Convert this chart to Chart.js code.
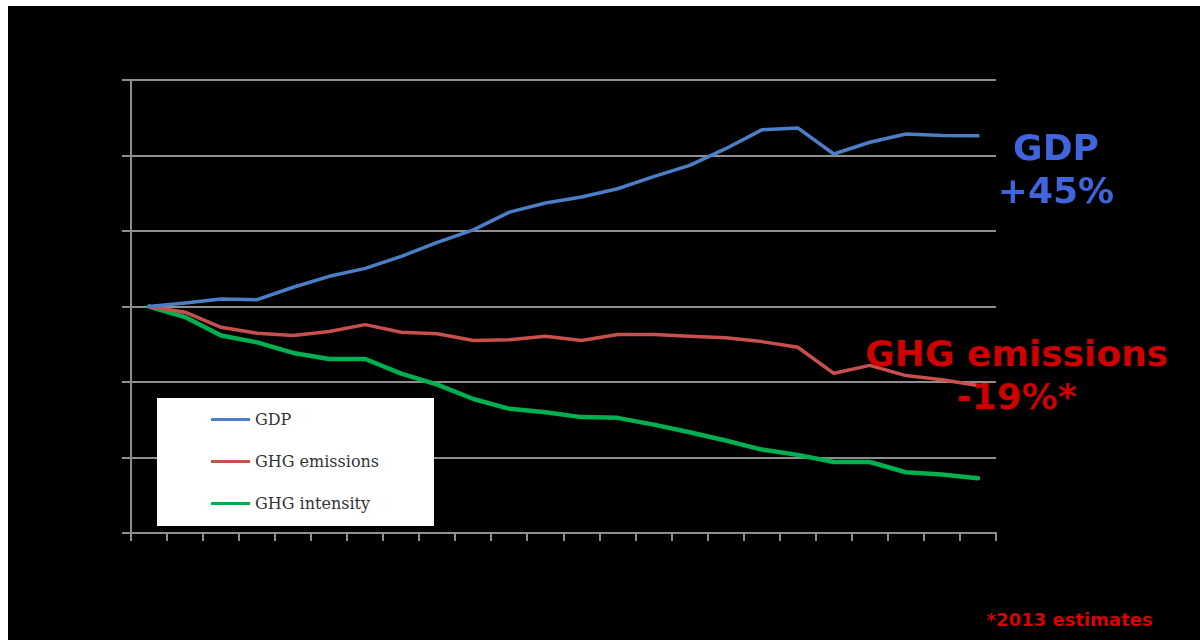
<!DOCTYPE html>
<html>
<head>
<meta charset="utf-8">
<script src="https://cdn.jsdelivr.net/npm/chart.js@4"></script>
<style>
  html, body { margin: 0; padding: 0; background: #fff; width: 1200px; height: 640px; overflow: hidden; }
  #panel { position: absolute; left: 8px; top: 6px; width: 1192px; height: 634px; background: #000; }
  #legend { position: absolute; left: 157px; top: 398px; width: 277px; height: 128px; background: #fff; }
  .item { position: absolute; left: 54px; height: 20px; font: 16px "DejaVu Serif", serif; color: #333; line-height: 20px; }
  .item i { display: inline-block; width: 39px; height: 3px; vertical-align: middle; margin-right: 5px; position: relative; top: -1px; }
  .note { position: absolute; font-family: "DejaVu Sans", Verdana, sans-serif; font-weight: bold; text-align: center; }
  #gdpNote { left: 956px; top: 126px; width: 200px; font-size: 36px; line-height: 43px; color: #4064dc; }
  #ghgNote { left: 857px; top: 332px; width: 320px; font-size: 36px; line-height: 43px; color: #d00000; }
  #footNote { left: 987px; top: 611px; font-size: 18px; line-height: 18px; color: #e00000; text-align: left; }
</style>
</head>
<body>
<div id="panel"><canvas id="GHG_Chart"></canvas></div>
<div id="legend"></div>
<div id="gdpNote" class="note">GDP<br>+45%</div>
<div id="ghgNote" class="note">GHG emissions<br>-19%*</div>
<div id="footNote" class="note">*2013 estimates</div>
<script>
const years = [1990, 1991, 1992, 1993, 1994, 1995, 1996, 1997, 1998, 1999, 2000, 2001,
               2002, 2003, 2004, 2005, 2006, 2007, 2008, 2009, 2010, 2011, 2012, 2013];
const gdp = [100, 100.9, 102.0, 101.8, 105.1, 108.0, 110.1, 113.3, 117.0, 120.3, 125.0, 127.4,
             129.0, 131.2, 134.4, 137.4, 141.8, 146.8, 147.3, 140.4, 143.5, 145.7, 145.3, 145.2];
const ghgEmissions = [100, 98.5, 94.5, 92.9, 92.3, 93.4, 95.2, 93.2, 92.8, 91.0, 91.2, 92.1,
                      91.0, 92.6, 92.6, 92.1, 91.7, 90.7, 89.2, 82.3, 84.4, 81.7, 80.6, 79.1];
const ghgIntensity = [100, 97.2, 92.3, 90.5, 87.7, 86.1, 86.1, 82.2, 79.3, 75.5, 72.9, 72.0,
                      70.7, 70.5, 68.7, 66.7, 64.5, 62.1, 60.7, 58.8, 58.8, 56.1, 55.5, 54.5];
const yTicks = [40, 60, 80, 100, 120, 140, 160];

const ghg_chart = document.getElementById('GHG_Chart');
const gridGray = '#8e8e8e';

const datasets = [
    { label: 'GDP', data: gdp, borderColor: '#4a7ec6', borderWidth: 3.5 },
    { label: 'GHG emissions', data: ghgEmissions, borderColor: '#c8504c', borderWidth: 3.5 },
    { label: 'GHG intensity', data: ghgIntensity, borderColor: '#00b050', borderWidth: 4.5 }
];

function line_Chart() {
    new Chart(ghg_chart, {
        type: 'line',
        data: {
            labels: years,
            datasets: datasets.map(d => ({
                ...d,
                pointRadius: 0,
                tension: 0,
                borderCapStyle: 'round',
                borderJoinStyle: 'round',
                fill: false
            }))
        },
        options: {
            responsive: true,
            maintainAspectRatio: false,
            animation: false,
            layout: { padding: { left: 0, top: 74, right: 204, bottom: 97 } },
            plugins: {
                legend: { display: false },
                tooltip: { enabled: false }
            },
            scales: {
                x: {
                    offset: true,
                    grid: { offset: true, drawOnChartArea: false, drawTicks: true, tickLength: 8, color: gridGray, lineWidth: 2 },
                    border: { color: gridGray, width: 2 },
                    ticks: { display: false },
                    afterFit: s => { s.height = 10; }
                },
                y: {
                    min: yTicks[0],
                    max: yTicks[yTicks.length - 1],
                    afterBuildTicks: s => { s.ticks = yTicks.map(v => ({ value: v })); },
                    grid: { color: gridGray, lineWidth: 2, tickLength: 9 },
                    border: { color: gridGray, width: 2 },
                    ticks: { display: false },
                    afterFit: s => { s.width = 123; }
                }
            }
        }
    });
}
line_Chart()

// html legend, same order as the datasets
const legendBox = document.getElementById('legend');
datasets.forEach((d, i) => {
    const row = document.createElement('div');
    row.className = 'item';
    row.style.top = (12 + i * 42) + 'px';
    row.innerHTML = '<i style="background:' + d.borderColor + '"></i>' + d.label;
    legendBox.appendChild(row);
});
</script>
</body>
</html>
